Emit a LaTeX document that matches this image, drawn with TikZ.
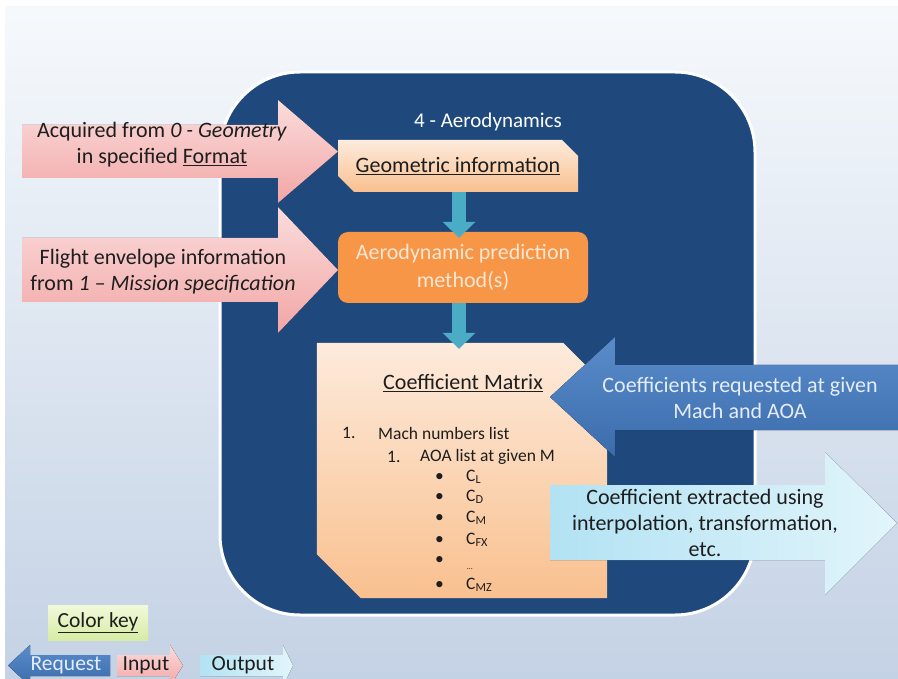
\documentclass[tikz,border=0pt]{standalone}
\usepackage{fontspec}
\setmainfont{Carlito}
\usetikzlibrary{shapes.misc,arrows.meta,calc}

\definecolor{bgtop}{HTML}{F6F9FC}
\definecolor{bgbot}{HTML}{C4D2E5}
\definecolor{framecol}{HTML}{1F497D}
\definecolor{peachtop}{HTML}{FDEBDC}
\definecolor{peachbot}{HTML}{F9C08F}
\definecolor{orangecol}{HTML}{F79646}
\definecolor{orangetext}{HTML}{FDE6D4}
\definecolor{tealcol}{HTML}{4BACC6}
\definecolor{pinktop}{HTML}{FBDCDC}
\definecolor{pinkbot}{HTML}{F2A6A6}
\definecolor{bluetop}{HTML}{5A8CCB}
\definecolor{bluebot}{HTML}{3B6BAB}
\definecolor{cyanleft}{HTML}{B2E2F3}
\definecolor{cyanright}{HTML}{E2F5FB}
\definecolor{keytop}{HTML}{F1F9DA}
\definecolor{keybot}{HTML}{D7ECA5}
\definecolor{inktext}{HTML}{1E1E1E}
\definecolor{paletext}{HTML}{E4EDF8}

\tikzset{
  frame/.style={rectangle, rounded corners=80pt, fill=framecol, draw=white,
    line width=3pt, minimum width=535pt, minimum height=543pt},
  boxtext/.style={font=\fontsize{22}{27}\selectfont, text=inktext, align=center},
  arrowtext/.style={font=\fontsize{22}{26}\selectfont, text=inktext, align=center},
  keytext/.style={font=\fontsize{21.5}{26}\selectfont, text=inktext},
  listtext/.style={font=\fontsize{17.5}{20}\selectfont, text=inktext, anchor=west, inner sep=0pt},
  snipbox/.style={chamfered rectangle, chamfered rectangle corners={north east,south west},
    top color=peachtop, bottom color=peachbot, draw=none},
  flow/.style={draw=tealcol, line width=14pt,
    -{Triangle[width=32pt,length=16pt]}, shorten >=-6pt},
  inputarrow/.style={top color=pinktop, bottom color=pinkbot},
  requestarrow/.style={top color=bluetop, bottom color=bluebot},
  outputarrow/.style={left color=cyanleft, right color=cyanright},
}

\begin{document}
\begin{tikzpicture}[x=1pt,y=-1pt]
\useasboundingbox (0,0) rectangle (898,679);
\clip (0,0) rectangle (898,679);

% slide background
\fill[white] (0,0) rectangle (898,679);
\shade[top color=bgtop, bottom color=bgbot] (5,7) rectangle (898,679);

% module frame
\node[frame] (frame) at (487.5,343.5) {};
\node[font=\fontsize{21}{26}\selectfont, text=white] (title) at (488,122) {4 - Aerodynamics};

% geometric information
\node[snipbox, minimum width=240pt, minimum height=52pt,
  chamfered rectangle xsep=8pt, chamfered rectangle ysep=8pt, boxtext]
  (geo) at (458,166) {\underline{Geometric information}};

% prediction method
\node[rectangle, rounded corners=10pt, fill=orangecol, minimum width=250pt,
  minimum height=71pt, font=\fontsize{22}{28}\selectfont, text=orangetext, align=center]
  (aero) at (463,267.5) {Aerodynamic prediction\\method(s)};

% coefficient matrix: box with two snipped corners
\node[rectangle, minimum width=290pt, minimum height=255pt, inner sep=0pt]
  (matrix) at (462,470.5) {};
\shade[top color=peachtop, bottom color=peachbot]
  (matrix.north west) -- ($(matrix.north east)+(-44,0)$) -- ($(matrix.north east)+(0,44)$)
  -- (matrix.south east) -- ($(matrix.south west)+(44,0)$) -- ($(matrix.south west)+(0,-44)$)
  -- cycle;
\node[boxtext] (mtitle) at (463,383) {\underline{Coefficient Matrix}};
\node[listtext] (n1) at (342,433) {1.};
\node[listtext] (mach) at (378,433) {Mach numbers list};
\node[listtext] (n2) at (387,457) {1.};
\node[listtext] (aoa) at (420,457) {AOA list at given M};
\foreach \y/\c/\s in {477/L/cl, 497/D/cd, 518/M/cm, 540/FX/cfx, 585/MZ/cmz}{
  \node[listtext] (b\s) at (435,\y) {\textbullet};
  \node[listtext] (\s) at (466,\y) {C\textsubscript{\c}};
}
\node[listtext] (bdots) at (435,560) {\textbullet};
\node[listtext, font=\fontsize{8}{9}\selectfont] (dots) at (467,569) {\dots};

% flow between the boxes
\draw[flow] (geo.south -| 459,0) -- (aero.north -| 459,0);
\draw[flow] (aero.south -| 459,0) -- (matrix.north -| 459,0);

% inputs
\fill[inputarrow] (22,125) -- (278,125) -- (278,100) -- (338,151.5) -- (278,203)
  -- (278,178) -- (22,178) -- cycle;
\node[arrowtext] (in1) at (162,145) {Acquired from \textit{0 - Geometry}\\in specified \underline{Format}};
\fill[inputarrow] (22,238) -- (278,238) -- (278,207) -- (338,270) -- (278,333)
  -- (278,302) -- (22,302) -- cycle;
\node[arrowtext] (in2) at (163,271.5) {Flight envelope information\\from \textit{1 – Mission specification}};

% request
\fill[requestarrow] (898,365) -- (615,365) -- (615,337) -- (550,397) -- (615,457)
  -- (615,430) -- (898,430) -- cycle;
\node[arrowtext, text=paletext] (req) at (740,398) {Coefficients requested at given\\Mach and AOA};

% output
\fill[outputarrow] (550,485) -- (825,485) -- (825,452) -- (897,523) -- (825,595)
  -- (825,560) -- (550,560) -- cycle;
\node[arrowtext] (out) at (705,523) {Coefficient extracted using\\interpolation, transformation,\\etc.};

% colour key
\node[rectangle, top color=keytop, bottom color=keybot, minimum width=100pt,
  minimum height=35pt, keytext] (key) at (98,622.5) {\underline{Color key}};

\fill[requestarrow] (110,655) -- (30,655) -- (30,645) -- (8,665.5) -- (30,686)
  -- (30,676) -- (110,676) -- cycle;
\node[keytext, text=paletext] (kreq) at (66,665) {Request};
\fill[inputarrow] (117,655) -- (170,655) -- (170,645) -- (183,665.5) -- (170,686)
  -- (170,676) -- (117,676) -- cycle;
\node[keytext] (kin) at (146,665) {Input};
\fill[outputarrow] (200,655) -- (283,655) -- (283,645) -- (293,665.5) -- (283,686)
  -- (283,676) -- (200,676) -- cycle;
\node[keytext] (kout) at (243,665) {Output};
\end{tikzpicture}
\end{document}
